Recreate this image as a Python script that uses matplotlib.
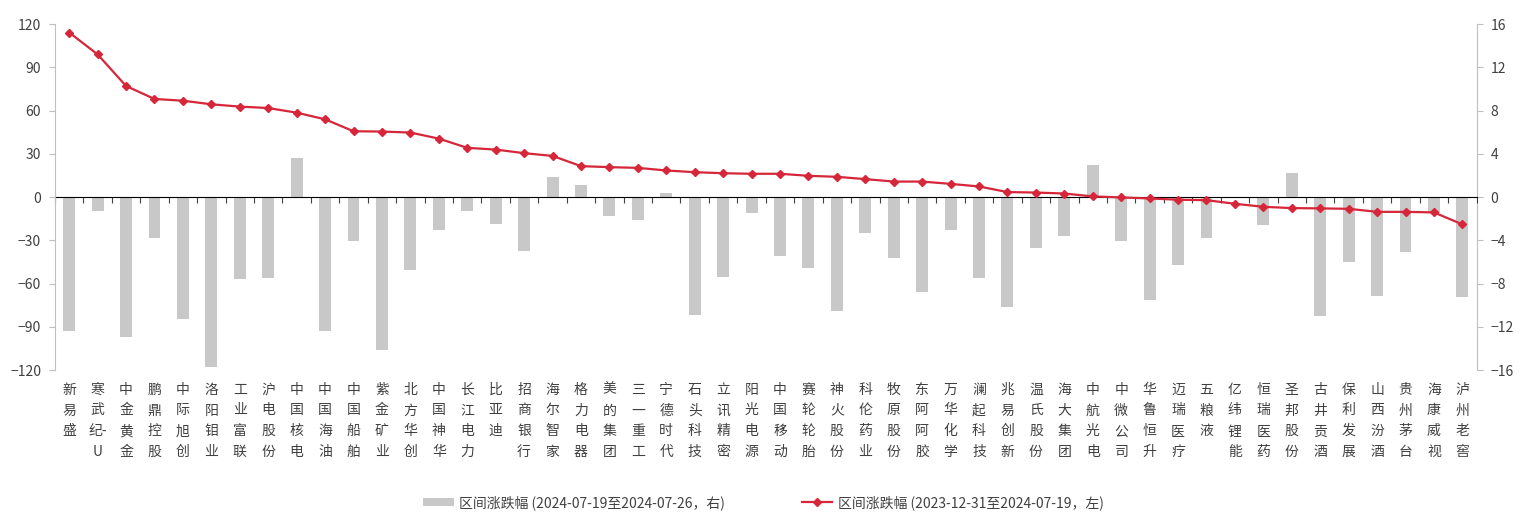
import matplotlib
matplotlib.use("Agg")
import matplotlib.pyplot as plt
import numpy as np
from matplotlib.lines import Line2D
from matplotlib.patches import Patch

plt.rcParams['font.family'] = ['Noto Sans CJK SC', 'DejaVu Sans']

names = ["新易盛", "寒武纪-U", "中金黄金", "鹏鼎控股", "中际旭创", "洛阳钼业", "工业富联", "沪电股份",
         "中国核电", "中国海油", "中国船舶", "紫金矿业", "北方华创", "中国神华", "长江电力", "比亚迪",
         "招商银行", "海尔智家", "格力电器", "美的集团", "三一重工", "宁德时代", "石头科技", "立讯精密",
         "阳光电源", "中国移动", "赛轮轮胎", "神火股份", "科伦药业", "牧原股份", "东阿阿胶", "万华化学",
         "澜起科技", "兆易创新", "温氏股份", "海大集团", "中航光电", "中微公司", "华鲁恒升", "迈瑞医疗",
         "五粮液", "亿纬锂能", "恒瑞医药", "圣邦股份", "古井贡酒", "保利发展", "山西汾酒", "贵州茅台",
         "海康威视", "泸州老窖"]

# 区间涨跌幅 (2023-12-31至2024-07-19, 左轴, %)
ytd_change = [114.2, 99.0, 77.1, 68.1, 66.9, 64.4, 62.8, 61.8, 58.6, 54.0,
              45.7, 45.5, 44.8, 40.6, 34.2, 33.0, 30.5, 28.6, 21.5, 20.8,
              20.3, 18.5, 17.3, 16.6, 16.2, 16.2, 14.8, 14.1, 12.5, 10.8,
              10.8, 9.2, 7.4, 3.5, 3.2, 2.5, 0.5, -0.2, -0.9, -1.8,
              -2.1, -4.6, -6.7, -7.6, -7.8, -8.1, -10.2, -10.2, -10.6, -18.9]

# 区间涨跌幅 (2024-07-19至2024-07-26, 右轴, %)
week_change = [-12.4, -1.3, -12.9, -3.8, -11.3, -15.7, -7.6, -7.5, 3.6, -12.4,
               -4.1, -14.1, -6.7, -3.0, -1.3, -2.5, -5.0, 1.9, 1.1, -1.7,
               -2.1, 0.4, -10.9, -7.4, -1.5, -5.4, -6.6, -10.5, -3.3, -5.6,
               -8.8, -3.0, -7.5, -10.2, -4.7, -3.6, 3.0, -4.1, -9.5, -6.3,
               -3.8, -0.1, -2.6, 2.2, -11.0, -6.0, -9.1, -5.1, -1.5, -9.2]

left_ticks = [-120, -90, -60, -30, 0, 30, 60, 90, 120]
right_ticks = [-16, -12, -8, -4, 0, 4, 8, 12, 16]

legend_bar = "区间涨跌幅 (2024-07-19至2024-07-26，右)"
legend_line = "区间涨跌幅 (2023-12-31至2024-07-19，左)"

red = "#D5263A"
bar_color = "#C8C8C8"
text_color = "#404040"
spine_color = "#BFBFBF"

fig = plt.figure(figsize=(15.27, 5.25), dpi=100)
ax = fig.add_axes([0.036, 0.295, 0.931, 0.659])
ax2 = ax.twinx()

x = np.arange(len(names))

ax2.bar(x, week_change, width=0.42, color=bar_color, zorder=2)
ax.plot(x, ytd_change, color=red, lw=1.6, marker='D', markersize=4,
        markerfacecolor=red, markeredgecolor=red, zorder=3)

ax.set_zorder(ax2.get_zorder() + 1)
ax.patch.set_visible(False)

ax.set_xlim(-0.5, len(names) - 0.5)
ax.set_ylim(-120, 120)
ax2.set_ylim(-16, 16)
ax.set_yticks(left_ticks)
ax2.set_yticks(right_ticks)

for a in (ax, ax2):
    for s in ('top', 'bottom'):
        a.spines[s].set_visible(False)
ax.spines['right'].set_visible(False)
ax2.spines['left'].set_visible(False)
ax.spines['left'].set_color(spine_color)
ax2.spines['right'].set_color(spine_color)
ax.tick_params(axis='y', colors=text_color, labelsize=10, length=4, color=spine_color, pad=6)
ax2.tick_params(axis='y', colors=text_color, labelsize=10, length=4, color=spine_color, pad=6)

labels = ["\n".join(list(n.replace("纪-", "\u0000"))).replace("\u0000", "纪-") for n in names]
ax.set_xticks(x)
ax.set_xticklabels(labels, fontsize=10, color=text_color, linespacing=1.62, va='top')
ax.tick_params(axis='x', length=0, pad=9)

# zero line with boundary ticks
sec = ax.secondary_xaxis(0.5)
sec.set_xticks(np.arange(len(names) + 1) - 0.5)
sec.set_xticklabels([])
sec.tick_params(axis='x', direction='in', length=4, color='#404040', width=0.8)
sec.spines['bottom'].set_color('#404040')
sec.spines['bottom'].set_linewidth(0.9)

handles = [Patch(facecolor=bar_color, edgecolor='none'),
           Line2D([0], [0], color=red, lw=1.6, marker='D', markersize=4)]
fig.legend(handles, [legend_bar, legend_line], loc='lower center', ncol=2,
           bbox_to_anchor=(0.5, 0.005), frameon=False, fontsize=10,
           handlelength=2.2, handleheight=0.5, handletextpad=0.4, columnspacing=5.5,
           labelcolor=text_color)

fig.savefig("out.png", dpi=100)
